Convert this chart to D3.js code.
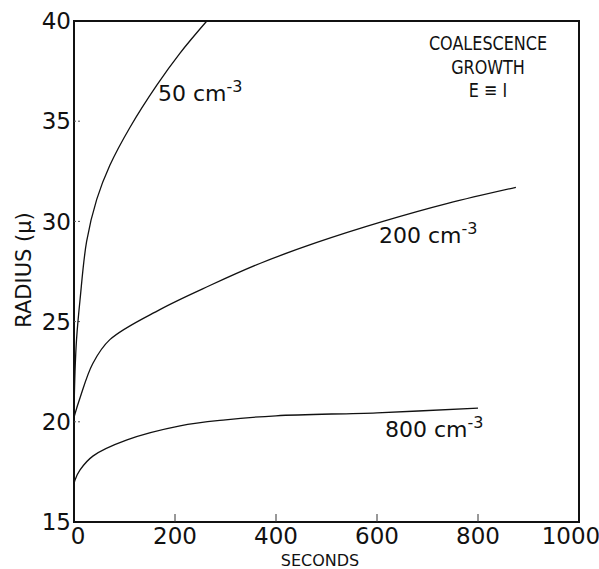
<!DOCTYPE html>
<html>
<head>
<meta charset="utf-8">
<script src="https://cdn.jsdelivr.net/npm/d3@7"></script>
<style>
  body { margin: 0; background: #fff; }
  svg text { font-family: "DejaVu Sans", "Liberation Sans", sans-serif; fill: #111; }
</style>
</head>
<body>
<svg id="viz" width="599" height="569"></svg>
<script>
// === DATA ===
const xTicks = [0, 200, 400, 600, 800, 1000];
const yTicks = [15, 20, 25, 30, 35, 40];

// 50 cm^-3
const t50 = [0, 2, 5, 12, 25, 45, 71, 111, 164, 210, 263];
const r50 = [20.5, 22.5, 24.1, 26.1, 29.0, 31.1, 32.8, 34.7, 36.8, 38.4, 40];

// 200 cm^-3
const t200 = [0, 2, 12, 37, 71, 170, 269, 368, 481, 612, 740, 875];
const r200 = [20.2, 20.4, 21.2, 22.9, 24.1, 25.6, 26.8, 27.9, 28.95, 30.0, 30.9, 31.7];

// 800 cm^-3
const t800 = [0, 2, 12, 38, 105, 210, 300, 400, 600, 800];
const r800 = [16.9, 17.1, 17.6, 18.3, 19.1, 19.8, 20.1, 20.3, 20.45, 20.68];

const series = [
  { label: "50", t: t50, r: r50 },
  { label: "200", t: t200, r: r200 },
  { label: "800", t: t800, r: r800 }
];

// === CHART ===
const svg = d3.select("#viz");
const margin = { top: 21, right: 20, bottom: 47, left: 74 };
const width = +svg.attr("width");
const height = +svg.attr("height");

const x = d3.scaleLinear().domain([0, 1000]).range([margin.left, width - margin.right]);
const y = d3.scaleLinear().domain([15, 40]).range([height - margin.bottom, margin.top]);

// frame
svg.append("rect")
  .attr("x", x(0))
  .attr("y", y(40))
  .attr("width", x(1000) - x(0))
  .attr("height", y(15) - y(40))
  .attr("fill", "none")
  .attr("stroke", "#111")
  .attr("stroke-width", 2);

// inward ticks
svg.selectAll(".xtick")
  .data(xTicks.slice(1, -1))
  .enter()
  .append("line")
  .attr("x1", d => x(d))
  .attr("x2", d => x(d))
  .attr("y1", y(15))
  .attr("y2", y(15) - 8)
  .attr("stroke", "#333")
  .attr("stroke-width", 1);

svg.selectAll(".ytick")
  .data(yTicks.slice(1, -1))
  .enter()
  .append("line")
  .attr("x1", x(0))
  .attr("x2", x(0) + 8)
  .attr("y1", d => y(d))
  .attr("y2", d => y(d))
  .attr("stroke", "#555")
  .attr("stroke-width", 1)
  .attr("stroke-dasharray", "2,2");

// tick labels
svg.selectAll(".xlab")
  .data(xTicks)
  .enter()
  .append("text")
  .attr("x", d => x(d) + (d === 0 ? 4 : d === 1000 ? -8 : 0))
  .attr("y", 544)
  .attr("text-anchor", "middle")
  .style("font-size", "23px")
  .text(d => d);

svg.selectAll(".ylab")
  .data(yTicks)
  .enter()
  .append("text")
  .attr("x", x(0) - 3)
  .attr("y", d => y(d))
  .attr("dy", "0.36em")
  .attr("text-anchor", "end")
  .style("font-size", "23px")
  .text(d => d);

// axis titles
svg.append("text")
  .attr("x", 320)
  .attr("y", 566)
  .attr("text-anchor", "middle")
  .style("font-size", "16px")
  .text("SECONDS");

svg.append("text")
  .attr("transform", "translate(31,270) rotate(-90)")
  .attr("text-anchor", "middle")
  .style("font-size", "21px")
  .text("RADIUS (\u03bc)");

// curves
const line = d3.line()
  .x(d => x(d[0]))
  .y(d => y(d[1]))
  .curve(d3.curveCatmullRom.alpha(0.5));

svg.selectAll(".curve")
  .data(series)
  .enter()
  .append("path")
  .attr("fill", "none")
  .attr("stroke", "#111")
  .attr("stroke-width", 1.3)
  .attr("d", s => line(s.t.map((t, i) => [t, s.r[i]])));

// curve labels
const curveLabels = [
  { text: "50 cm", x: 158, y: 101 },
  { text: "200 cm", x: 379, y: 243 },
  { text: "800 cm", x: 385, y: 437 }
];

const lab = svg.selectAll(".clab")
  .data(curveLabels)
  .enter()
  .append("text")
  .attr("x", d => d.x)
  .attr("y", d => d.y)
  .style("font-size", "22px");
lab.append("tspan").text(d => d.text);
lab.append("tspan").attr("dy", -9).style("font-size", "16px").text("-3");

// title block (narrow lettering)
const title = ["COALESCENCE", "GROWTH", "E \u2261 I"];
svg.selectAll(".title")
  .data(title)
  .enter()
  .append("text")
  .attr("transform", (d, i) => `translate(488,${50 + i * 23.5}) scale(0.8,1)`)
  .attr("text-anchor", "middle")
  .style("font-size", "20px")
  .text(d => d);
</script>
</body>
</html>
